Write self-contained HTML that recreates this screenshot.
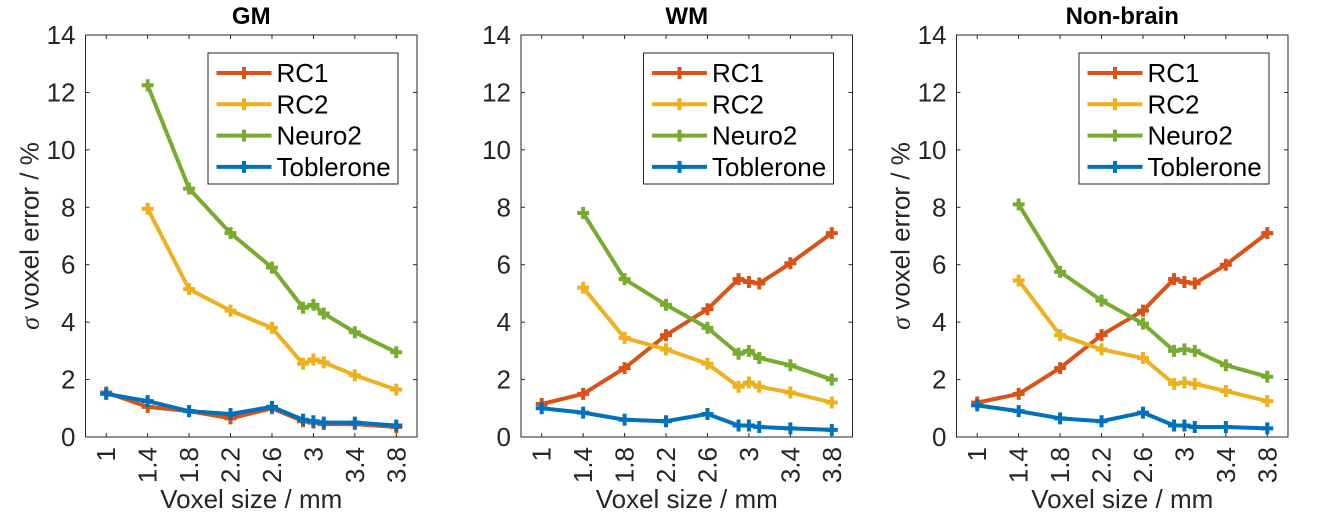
<!DOCTYPE html>
<html><head><meta charset="utf-8"><style>
body{margin:0;background:#fff;}
svg{display:block;font-family:"Liberation Sans",sans-serif;}
</style></head><body>
<svg id="chart" width="1327" height="513" viewBox="0 0 1327 513"></svg>
<script>
const xTicks=[1,1.4,1.8,2.2,2.6,3,3.4,3.8];
const xTickLabels=["1","1.4","1.8","2.2","2.6","3","3.4","3.8"];
const yTicks=[0,2,4,6,8,10,12,14];
const xs=[1,1.4,1.8,2.2,2.6,2.9,3.0,3.1,3.4,3.8];
const seriesNames=["RC1","RC2","Neuro2","Toblerone"];
const panelTitles=["GM","WM","Non-brain"];
const gmRC1=[1.55,1.05,0.9,0.65,1.0,0.55,0.5,0.45,0.45,0.35];
const gmRC2=[null,7.95,5.15,4.4,3.8,2.55,2.7,2.6,2.15,1.65];
const gmNeuro2=[null,12.25,8.65,7.1,5.9,4.5,4.6,4.3,3.65,2.95];
const gmTob=[1.5,1.25,0.9,0.8,1.05,0.6,0.55,0.5,0.5,0.4];
const wmRC1=[1.15,1.5,2.4,3.55,4.45,5.5,5.4,5.35,6.05,7.1];
const wmRC2=[null,5.2,3.45,3.05,2.55,1.75,1.9,1.75,1.55,1.2];
const wmNeuro2=[null,7.8,5.5,4.6,3.8,2.9,3.0,2.75,2.5,2.0];
const wmTob=[1.0,0.85,0.6,0.55,0.8,0.4,0.4,0.35,0.3,0.25];
const nbRC1=[1.2,1.5,2.4,3.55,4.4,5.5,5.4,5.35,6.0,7.1];
const nbRC2=[null,5.45,3.55,3.05,2.75,1.85,1.9,1.85,1.6,1.25];
const nbNeuro2=[null,8.1,5.75,4.75,3.95,3.0,3.05,3.0,2.5,2.1];
const nbTob=[1.1,0.9,0.65,0.55,0.85,0.4,0.4,0.35,0.35,0.3];
const panelData=[[gmRC1,gmRC2,gmNeuro2,gmTob],[wmRC1,wmRC2,wmNeuro2,wmTob],[nbRC1,nbRC2,nbNeuro2,nbTob]];
const colors=["#D95319","#EDB120","#77AC30","#0072BD"];
const NS="http://www.w3.org/2000/svg";
const svg=document.getElementById('chart');
function mk(tag,attrs,parent){const e=document.createElementNS(NS,tag);for(const k in attrs)e.setAttribute(k,attrs[k]);(parent||svg).appendChild(e);return e;}
const W=331.5,T=35,B=437,XMIN=0.8,XMAX=4.0,YMAX=14;
const slugs=["gm","wm","non-brain"];
panelData.forEach((series,p)=>{
  const L=85.5+p*435.5,R=L+W;
  const sx=v=>L+(v-XMIN)/(XMAX-XMIN)*W;
  const sy=v=>B-v/YMAX*(B-T);
  const g=mk('g',{});
  
  
  const t=mk('text',{x:(L+R)/2,y:24,'text-anchor':'middle','font-size':24,'font-weight':'bold',fill:'#000'},g);
  t.textContent=panelTitles[p];
  
  
  yTicks.forEach(v=>{
    const y=sy(v);
    mk('line',{x1:L,x2:L+4,y1:y,y2:y,stroke:'#262626','stroke-width':1},g);
    mk('line',{x1:R,x2:R-4,y1:y,y2:y,stroke:'#262626','stroke-width':1},g);
    const tl=mk('text',{x:L-10,y:y+9,'text-anchor':'end','font-size':26,fill:'#262626'},g);
    tl.textContent=String(v);
    
    
  });
  xTicks.forEach((v,i)=>{
    const x=sx(v);
    mk('line',{x1:x,x2:x,y1:B,y2:B-4,stroke:'#262626','stroke-width':1},g);
    mk('line',{x1:x,x2:x,y1:T,y2:T+4,stroke:'#262626','stroke-width':1},g);
    const tl=mk('text',{x:0,y:0,'text-anchor':'end','font-size':26,fill:'#262626',transform:`translate(${x+9},${B+10}) rotate(-90)`},g);
    tl.textContent=xTickLabels[i];
    
    
  });
  mk('rect',{x:L,y:T,width:W,height:B-T,fill:'none',stroke:'#262626','stroke-width':1},g);
  const xl=mk('text',{x:(L+R)/2,y:508,'text-anchor':'middle','font-size':26,fill:'#262626'},g);
  xl.textContent='Voxel size / mm';
  
  
  if(p!==1){
    const yl=mk('text',{x:0,y:0,'text-anchor':'middle','font-size':26,fill:'#262626',transform:`translate(${L-47},236) rotate(-90)`},g);
    yl.innerHTML='<tspan font-family="Liberation Serif" font-style="italic">σ</tspan> voxel error / %';
    
    
  }
  series.forEach((vals,s)=>{
    const pts=[];
    vals.forEach((v,i)=>{if(v!==null)pts.push([sx(xs[i]),sy(v)]);});
    const pl=mk('polyline',{points:pts.map(q=>q.join(',')).join(' '),fill:'none',stroke:colors[s],'stroke-width':4,'stroke-linejoin':'round'},g);
    
    
    pts.forEach(q=>{
      const m=mk('path',{d:`M${q[0]-6},${q[1]}h12M${q[0]},${q[1]-6}v12`,stroke:colors[s],'stroke-width':4},g);
      
      
    });
  });
  const lg=mk('g',{},g);
  
  
  mk('rect',{x:L+122.5,y:53,width:190,height:131,fill:'#fff',stroke:'#262626','stroke-width':1},lg);
  seriesNames.forEach((n,s)=>{
    const y=73+s*31.3;
    const e=mk('g',{},lg);
    
    
    mk('line',{x1:L+131,x2:L+186,y1:y,y2:y,stroke:colors[s],'stroke-width':4},e);
    mk('path',{d:`M${L+152.5},${y}h12M${L+158.5},${y-6}v12`,stroke:colors[s],'stroke-width':4},e);
    const tx=mk('text',{x:L+191,y:y+9,'font-size':26,fill:'#000'},e);
    tx.textContent=n;
  });
});
</script>
</body></html>
